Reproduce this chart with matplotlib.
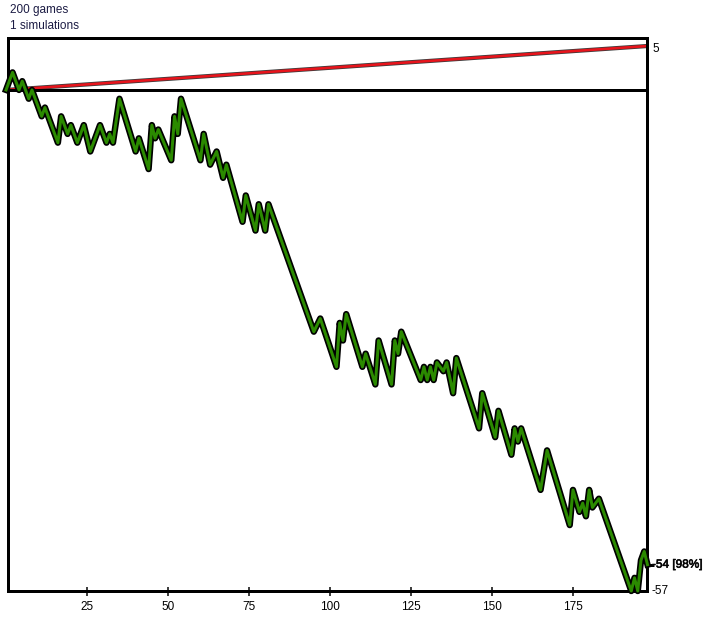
import matplotlib
matplotlib.use('Agg')
import matplotlib.pyplot as plt
import matplotlib.patheffects as pe

# turning points of the running total (units) after each game
games = [0, 2, 4, 5, 7, 8, 11, 12, 16, 17, 19, 20, 22, 24, 26, 29, 31, 32, 33, 35,
         40, 41, 44, 45, 46, 47, 51, 52, 53, 54, 60, 61, 63, 65, 67, 68, 73, 74, 77, 78,
         80, 81, 95, 97, 102, 103, 104, 105, 110, 111, 114, 115, 119, 120, 121, 122, 128, 129, 130, 131,
         132, 133, 135, 136, 138, 139, 146, 147, 151, 152, 156, 157, 158, 159, 165, 167, 174, 175, 177, 178,
         179, 180, 181, 183, 193, 194, 195, 196, 197, 198]
units = [0, 2, 0, 1, -1, 0, -3, -2, -6, -3, -5, -4, -6, -4, -7, -4, -6, -5, -6, -1,
         -7, -5.5, -9, -4, -5.5, -4.5, -8, -3, -5, -1, -8, -5, -8.5, -7, -10, -8.5, -15, -12, -16, -13,
         -16, -13, -27.5, -26, -31.5, -26.5, -28.5, -25.5, -31.5, -30, -33.5, -28.5, -33.5, -28.5, -30, -27.5, -33, -31.5, -33, -31.5,
         -33, -31, -32, -31, -34.5, -30.5, -38.5, -34.5, -39.5, -36.5, -41.5, -38.5, -40, -38.5, -45.5, -41, -49.5, -45.5, -48, -47,
         -48.5, -45.5, -47.5, -46.5, -57, -55.5, -57, -53.5, -52.5, -54]

# expected value line
ev_games = [0, 198]
ev_units = [0, 5]

xticks = [25, 50, 75, 100, 125, 150, 175]
n_games = 200
n_sims = 1
final_label = '-54 [98%]'
min_label = '-57'
max_label = '5'

PX = 72 / 100  # points per pixel
FONT = 'Liberation Sans'

fig = plt.figure(figsize=(7.06, 6.18), dpi=100)
ax = fig.add_axes([8 / 706, 1 - 591 / 618, (646.5 - 8) / 706, (591 - 38) / 618])

# expected value (red with dark edge)
ax.plot(ev_games, ev_units, color='#e8141c', lw=2.6 * PX, solid_capstyle='butt',
        path_effects=[pe.Stroke(linewidth=4.2 * PX, foreground='#3a3a3a'), pe.Normal()], zorder=2)
ax.axhline(0, color='black', lw=3 * PX, zorder=3)
# results line: green with black outline
ax.plot(games, units, color='#2b8a00', lw=3 * PX, solid_joinstyle='round', clip_on=False,
        path_effects=[pe.Stroke(linewidth=6.4 * PX, foreground='black'), pe.Normal()], zorder=4)

ax.set_xlim(0.6, 197.7)
ax.set_ylim(-57, 5.91)

for s in ax.spines.values():
    s.set_linewidth(3 * PX)
    s.set_color('black')

ax.set_xticks(xticks)
ax.set_xticklabels([str(t) for t in xticks], fontsize=8.5, family=FONT)
ax.tick_params(axis='x', direction='inout', length=9 * PX, width=1.5 * PX, pad=6 * PX)

ax.yaxis.tick_right()
ax.set_yticks([-54])
ax.set_yticklabels([])
ax.tick_params(axis='y', direction='out', length=7 * PX, width=3 * PX)

lab = dict(xycoords=('axes fraction', 'data'), textcoords='offset points', va='center', ha='left',
           fontsize=8.5, family=FONT)
ax.annotate(final_label, xy=(1, -54), xytext=(5.5 * PX, 0), color='black',
            path_effects=[pe.Stroke(linewidth=0.5, foreground='#202020'), pe.Normal()], **lab)
ax.annotate(min_label, xy=(1, -57), xytext=(5.5 * PX, 0), color='black', **lab)
ax.annotate(max_label, xy=(1, 5), xytext=(5.5 * PX, -3 * PX), color='black', **lab)

fig.text(10 / 706, 1 - 10 / 618, f'{n_games} games', va='center', ha='left',
         fontsize=8.5, family=FONT, color='#1c1c44')
fig.text(10 / 706, 1 - 26 / 618, f'{n_sims} simulations', va='center', ha='left',
         fontsize=8.5, family=FONT, color='#1c1c44')

fig.savefig('out.png', dpi=100)
